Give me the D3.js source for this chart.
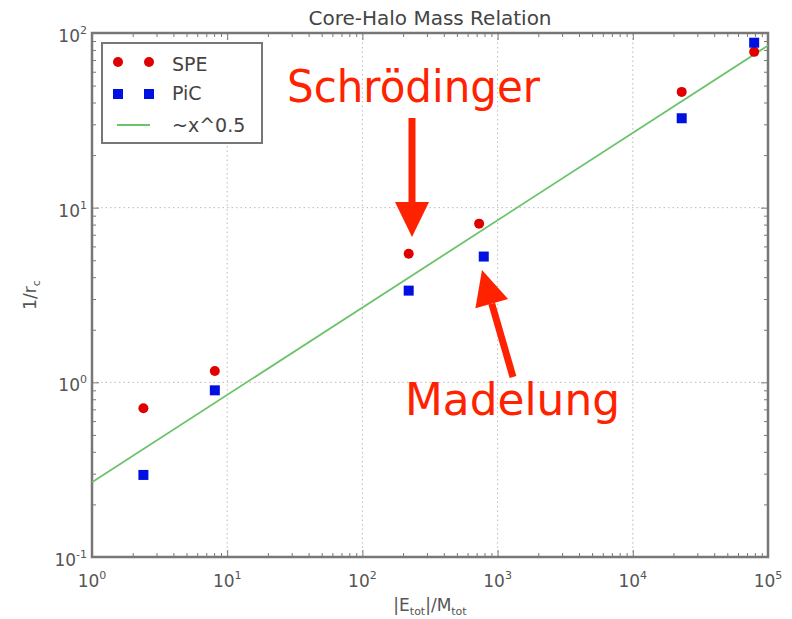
<!DOCTYPE html>
<html>
<head>
<meta charset="utf-8">
<script src="https://cdn.jsdelivr.net/npm/d3@7"></script>
<style>
  body { margin: 0; background: #fff; }
  text { font-family: "DejaVu Sans", sans-serif; }
</style>
</head>
<body>
<div id="chart"></div>
<script>
// values
const speX = [2.4, 8.1, 220, 730, 23000, 79000];
const speY = [0.71, 1.16, 5.45, 8.1, 46, 78];
const picX = [2.4, 8.1, 220, 790, 23000, 79000];
const picY = [0.295, 0.90, 3.35, 5.25, 32.5, 88];
const fitX = [1, 100000];
const fitY = [0.268, 84.7];
const xDecades = [0, 1, 2, 3, 4, 5];
const yDecades = [-1, 0, 1, 2];

const width = 792, height = 619;
const margin = { left: 92, right: 24, top: 33, bottom: 62 };

const svg = d3.select("#chart")
    .append("svg")
    .attr("width", width)
    .attr("height", height);

const x = d3.scaleLog().domain([1, 1e5]).range([margin.left, width - margin.right]);
const y = d3.scaleLog().domain([0.1, 100]).range([height - margin.bottom, margin.top]);

const x0 = x.range()[0], x1 = x.range()[1];
const y0 = y.range()[0], y1 = y.range()[1];

// minor ticks 2..9 inside each decade
function minors(decades) {
    const out = [];
    decades.slice(0, -1).forEach(d => {
        for (let k = 2; k <= 9; k++) out.push(k * Math.pow(10, d));
    });
    return out;
}
const xMajor = xDecades.map(d => Math.pow(10, d));
const yMajor = yDecades.map(d => Math.pow(10, d));

// grid
const grid = svg.append("g").attr("stroke", "#bbb").attr("stroke-dasharray", "1.5,3").attr("stroke-width", 1);
xMajor.slice(1, -1).forEach(v => {
    grid.append("line").attr("x1", x(v)).attr("x2", x(v)).attr("y1", y0).attr("y2", y1);
});
yMajor.slice(1, -1).forEach(v => {
    grid.append("line").attr("y1", y(v)).attr("y2", y(v)).attr("x1", x0).attr("x2", x1);
});

// ticks on all four sides, pointing in
function tickAxis(axisFn, scale, values, size, transform) {
    const g = svg.append("g")
        .attr("transform", transform)
        .call(axisFn(scale).tickValues(values).tickSize(size).tickFormat(""));
    g.select(".domain").remove();
    g.selectAll(".tick line").attr("stroke", "#777").attr("stroke-width", 1);
}
tickAxis(d3.axisBottom, x, xMajor, -7, `translate(0,${y0})`);
tickAxis(d3.axisBottom, x, minors(xDecades), -4, `translate(0,${y0})`);
tickAxis(d3.axisTop, x, xMajor, -7, `translate(0,${y1})`);
tickAxis(d3.axisTop, x, minors(xDecades), -4, `translate(0,${y1})`);
tickAxis(d3.axisLeft, y, yMajor, -7, `translate(${x0},0)`);
tickAxis(d3.axisLeft, y, minors(yDecades), -4, `translate(${x0},0)`);
tickAxis(d3.axisRight, y, yMajor, -7, `translate(${x1},0)`);
tickAxis(d3.axisRight, y, minors(yDecades), -4, `translate(${x1},0)`);

// frame
svg.append("rect")
    .attr("x", x0).attr("y", y1)
    .attr("width", x1 - x0).attr("height", y0 - y1)
    .attr("fill", "none").attr("stroke", "#777").attr("stroke-width", 2.5);

// tick labels
function powLabel(g, base, exp) {
    g.append("tspan").text(base);
    g.append("tspan").attr("dy", -8).attr("font-size", 11).text(exp);
}
xDecades.forEach(d => {
    const t = svg.append("text")
        .attr("x", x(Math.pow(10, d))).attr("y", y0 + 30)
        .attr("text-anchor", "middle")
        .attr("font-size", 17).attr("fill", "#555");
    powLabel(t, "10", d);
});
yDecades.forEach(d => {
    const t = svg.append("text")
        .attr("x", x0 - 5).attr("y", y(Math.pow(10, d)) + 9)
        .attr("text-anchor", "end")
        .attr("font-size", 17).attr("fill", "#555");
    powLabel(t, "10", d);
});

// title and axis labels
svg.append("text")
    .attr("x", (x0 + x1) / 2).attr("y", 25)
    .attr("text-anchor", "middle")
    .attr("font-size", 20).attr("fill", "#444")
    .text("Core-Halo Mass Relation");

const xl = svg.append("text")
    .attr("x", (x0 + x1) / 2).attr("y", 611)
    .attr("text-anchor", "middle")
    .attr("font-size", 17).attr("fill", "#555");
xl.append("tspan").text("|E");
xl.append("tspan").attr("dy", 4).attr("font-size", 11).text("tot");
xl.append("tspan").attr("dy", -4).text("|/M");
xl.append("tspan").attr("dy", 4).attr("font-size", 11).text("tot");

const yl = svg.append("text")
    .attr("transform", `translate(36,${(y0 + y1) / 2}) rotate(-90)`)
    .attr("text-anchor", "middle")
    .attr("font-size", 17).attr("fill", "#555");
yl.append("tspan").text("1/r");
yl.append("tspan").attr("dy", 4).attr("font-size", 11).text("c");

// fit line
svg.append("path")
    .datum(fitX.map((v, i) => [v, fitY[i]]))
    .attr("d", d3.line().x(d => x(d[0])).y(d => y(d[1])))
    .attr("fill", "none").attr("stroke", "#6cc36c").attr("stroke-width", 1.8);

// data marks
const marks = svg.append("g");
marks.selectAll("circle.spe")
    .data(speX.map((v, i) => [v, speY[i]]))
    .join("circle")
    .attr("class", "spe")
    .attr("cx", d => x(d[0])).attr("cy", d => y(d[1]))
    .attr("r", 5).attr("fill", "#e00000");
marks.selectAll("rect.pic")
    .data(picX.map((v, i) => [v, picY[i]]))
    .join("rect")
    .attr("class", "pic")
    .attr("x", d => x(d[0]) - 5).attr("y", d => y(d[1]) - 5)
    .attr("width", 10).attr("height", 10).attr("fill", "#0010e0");

// legend
const legend = svg.append("g").attr("transform", "translate(102,43)");
legend.append("rect")
    .attr("width", 160).attr("height", 100)
    .attr("fill", "#fff").attr("stroke", "#777").attr("stroke-width", 2);
[16, 47].forEach(px => {
    legend.append("circle").attr("cx", px).attr("cy", 19).attr("r", 5).attr("fill", "#e00000");
    legend.append("rect").attr("x", px - 5).attr("y", 46).attr("width", 10).attr("height", 10).attr("fill", "#0010e0");
});
legend.append("line").attr("x1", 15).attr("x2", 48).attr("y1", 82).attr("y2", 82)
    .attr("stroke", "#6cc36c").attr("stroke-width", 1.8);
[["SPE", 28], ["PiC", 57], ["~x^0.5", 89]].forEach(([t, ty]) => {
    legend.append("text").attr("x", 70).attr("y", ty)
        .attr("font-size", 19).attr("fill", "#444").text(t);
});

// red annotations
const red = "#ff2200";
const ann = svg.append("g").attr("fill", red);
ann.append("text")
    .attr("x", 287).attr("y", 102)
    .attr("font-family", "Open Sans, sans-serif").attr("font-size", 44)
    .attr("textLength", 253).attr("lengthAdjust", "spacingAndGlyphs")
    .text("Schrödinger");
ann.append("text")
    .attr("x", 405).attr("y", 415)
    .attr("font-family", "Open Sans, sans-serif").attr("font-size", 44)
    .attr("textLength", 215).attr("lengthAdjust", "spacingAndGlyphs")
    .text("Madelung");

function arrow(fromX, fromY, toX, toY) {
    const ang = Math.atan2(toY - fromY, toX - fromX);
    const headLen = 35, headHalf = 17, shaft = 3.5;
    const bx = toX - headLen * Math.cos(ang), by = toY - headLen * Math.sin(ang);
    const nx = -Math.sin(ang), ny = Math.cos(ang);
    ann.append("line")
        .attr("x1", fromX).attr("y1", fromY).attr("x2", bx).attr("y2", by)
        .attr("stroke", red).attr("stroke-width", shaft * 2);
    ann.append("path")
        .attr("d", `M${toX},${toY}L${bx + nx * headHalf},${by + ny * headHalf}L${bx - nx * headHalf},${by - ny * headHalf}Z`);
}
arrow(412, 118, 412, 237);
arrow(513, 377, 482, 270);
</script>
</body>
</html>
